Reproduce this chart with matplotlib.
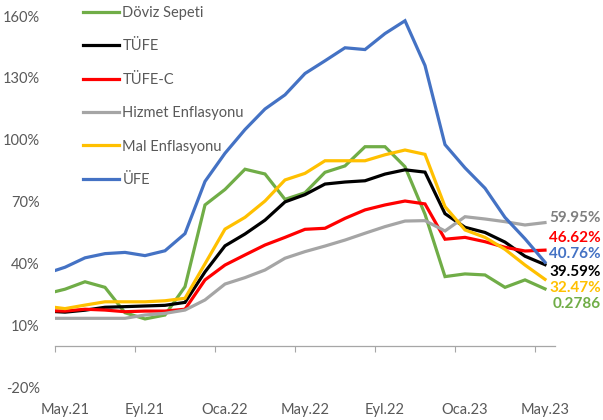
import numpy as np
import matplotlib
matplotlib.use("Agg")
import matplotlib.pyplot as plt

plt.rcParams['font.family'] = ['Lato', 'DejaVu Sans']

# monthly positions, Nis.21 (clipped off the left edge) .. May.23
x = np.arange(-1, 25) + 0.5

doviz = [25.3, 27.7, 31.3, 28.6, 16.3, 13.3, 15.2, 28.9, 68.5, 76.0, 85.8, 83.5, 71.2,
         74.4, 84.3, 87.4, 96.7, 96.7, 87.0, 64.0, 33.8, 35.1, 34.6, 28.6, 32.2, 27.86]
tufe = [17.14, 16.59, 17.53, 18.95, 19.25, 19.58, 19.89, 21.31, 36.08, 48.69, 54.44, 61.14, 69.97,
        73.50, 78.62, 79.60, 80.21, 83.45, 85.51, 84.39, 64.27, 57.68, 55.18, 50.51, 43.68, 39.59]
tufe_c = [17.3, 17.1, 18.0, 17.6, 16.8, 17.1, 17.1, 18.0, 32.2, 39.4, 44.3, 49.1, 52.8,
          56.7, 57.2, 62.0, 66.1, 68.5, 70.4, 69.0, 51.9, 52.8, 50.7, 48.0, 46.2, 46.62]
hizmet = [13.6, 13.6, 13.6, 13.6, 13.6, 15.2, 16.0, 17.6, 22.5, 30.2, 33.3, 37.0, 42.7,
          45.9, 48.6, 51.5, 54.8, 58.0, 60.7, 60.9, 55.9, 62.8, 61.7, 60.4, 58.8, 59.95]
mal = [19.5, 18.3, 20.0, 21.6, 21.6, 21.6, 22.1, 23.3, 40.0, 56.8, 62.5, 70.4, 80.6,
       83.8, 89.9, 89.9, 89.9, 92.8, 95.1, 93.0, 67.7, 56.4, 52.8, 47.0, 39.4, 32.47]
ufe = [35.17, 38.33, 42.89, 44.92, 45.52, 43.96, 46.31, 54.62, 79.89, 93.53, 105.01, 114.97, 121.82,
       132.16, 138.31, 144.61, 143.75, 151.50, 157.69, 136.02, 97.72, 86.46, 76.61, 62.45, 52.11, 40.76]

names = ['Döviz Sepeti', 'TÜFE', 'TÜFE-C', 'Hizmet Enflasyonu', 'Mal Enflasyonu', 'ÜFE']
series = [doviz, tufe, tufe_c, hizmet, mal, ufe]
colors = ['#70AD47', '#000000', '#FF0000', '#A5A5A5', '#FFC000', '#4472C4']

end_labels = ['59.95%', '46.62%', '40.76%', '39.59%', '32.47%', '0.2786']
end_colors = ['#7F7F7F', '#FF0000', '#4472C4', '#000000', '#FFC000', '#70AD47']
end_y = [62.2, 52.6, 44.9, 36.0, 28.3, 20.5]

tick_pos = [0, 4, 8, 12, 16, 20, 24]
tick_labels = ['May.21', 'Eyl.21', 'Oca.22', 'May.22', 'Eyl.22', 'Oca.23', 'May.23']
yticks = [-20, 10, 40, 70, 100, 130, 160]

txt = '#595959'
axis_col = '#A6A6A6'

fig = plt.figure(figsize=(6.03, 4.20), dpi=100)
ax = fig.add_axes([55 / 603, 1 - 387.7 / 420, 500 / 603, 371.7 / 420])

for vals, name, c in zip(series, names, colors):
    ax.plot(x, vals, color=c, lw=2.3, label=name, solid_joinstyle='miter')

ax.set_xlim(0, 25)
ax.set_ylim(-20, 160)

for s in ['left', 'right', 'top']:
    ax.spines[s].set_visible(False)
ax.spines['bottom'].set_position(('data', 0))
ax.spines['bottom'].set_color(axis_col)
ax.spines['bottom'].set_linewidth(0.9)

ax.set_xticks(tick_pos)
ax.tick_params(axis='x', direction='out', length=4, color=axis_col, labelbottom=False)
ax.set_yticks(yticks)
ax.set_yticklabels([f'{v}%' for v in yticks])
ax.tick_params(axis='y', length=0, pad=11, labelsize=10.5, labelcolor=txt)

# month labels sit at the bottom of the plot area, centred on the months
sec = ax.secondary_xaxis('bottom')
sec.set_xticks([p + 0.5 for p in tick_pos])
sec.set_xticklabels(tick_labels)
sec.tick_params(length=0, pad=11, labelsize=10.5, labelcolor=txt)
sec.spines['bottom'].set_visible(False)

for s, c, yy in zip(end_labels, end_colors, end_y):
    ax.text(27.3, yy, s, color=c, fontsize=11, fontweight='bold',
            ha='right', va='center', clip_on=False)

leg = ax.legend(loc='upper left', bbox_to_anchor=(83 / 603, 1 - 6 / 420),
                bbox_transform=fig.transFigure, frameon=False, fontsize=10.5,
                handlelength=2.45, handletextpad=0.25, labelspacing=1.33,
                borderpad=0, borderaxespad=0)
for t in leg.get_texts():
    t.set_color(txt)

fig.savefig('out.png', dpi=100)
